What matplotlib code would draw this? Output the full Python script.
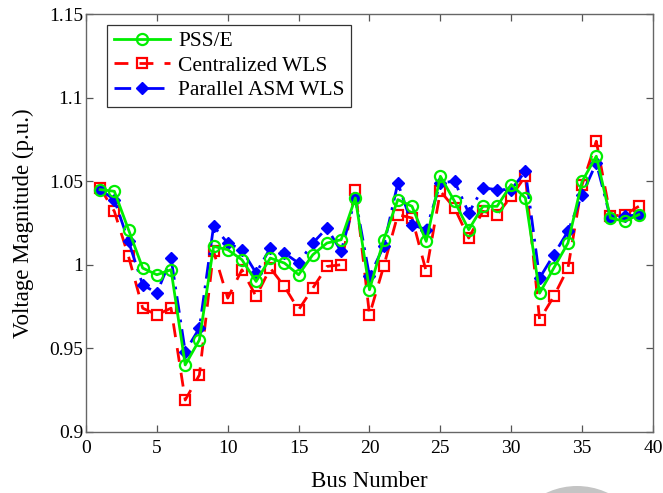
import matplotlib
matplotlib.use("Agg")
import matplotlib.pyplot as plt
from matplotlib.patches import Ellipse

plt.rcParams['font.family'] = ['Liberation Serif', 'DejaVu Serif']
plt.rcParams['mathtext.fontset'] = 'stix'

bus = list(range(1, 40))
pss_e = [1.045, 1.044, 1.021, 0.998, 0.994, 0.997, 0.940, 0.955, 1.011, 1.009,
         1.003, 0.990, 1.004, 1.001, 0.994, 1.006, 1.013, 1.015, 1.040, 0.985,
         1.015, 1.039, 1.035, 1.014, 1.053, 1.038, 1.021, 1.035, 1.035, 1.048,
         1.040, 0.983, 0.998, 1.013, 1.050, 1.065, 1.028, 1.026, 1.030]
central_wls = [1.046, 1.032, 1.005, 0.974, 0.970, 0.974, 0.919, 0.934, 1.008, 0.980,
               0.997, 0.981, 0.998, 0.987, 0.973, 0.986, 0.999, 1.000, 1.045, 0.970,
               0.999, 1.030, 1.028, 0.996, 1.044, 1.034, 1.016, 1.032, 1.030, 1.041,
               1.053, 0.967, 0.981, 0.998, 1.048, 1.074, 1.029, 1.030, 1.035]
parallel_asm = [1.045, 1.039, 1.014, 0.988, 0.983, 1.004, 0.948, 0.962, 1.023, 1.013,
                1.009, 0.995, 1.010, 1.007, 1.001, 1.013, 1.022, 1.008, 1.040, 0.993,
                1.011, 1.049, 1.024, 1.021, 1.049, 1.050, 1.031, 1.046, 1.045, 1.045,
                1.056, 0.992, 1.006, 1.020, 1.042, 1.061, 1.028, 1.029, 1.030]

xticks = [0, 5, 10, 15, 20, 25, 30, 35, 40]
yticks = [0.9, 0.95, 1.0, 1.05, 1.1, 1.15]
yticklabels = ['0.9', '0.95', '1', '1.05', '1.1', '1.15']

fig = plt.figure(figsize=(6.63, 4.93), dpi=100)
ax = fig.add_axes([0.1297, 0.1243, 0.8552, 0.8467])

ax.plot(bus, pss_e, color='#00ee00', linestyle='-', linewidth=2.0,
        marker='o', markersize=8, markerfacecolor='none', markeredgewidth=1.6,
        label='PSS/E', zorder=3)
ax.plot(bus, central_wls, color='#ff0000', linestyle=(0, (5, 4)), linewidth=2.0,
        marker='s', markersize=6.5, markerfacecolor='none', markeredgewidth=1.6,
        label='Centralized WLS', zorder=2)
ax.plot(bus, parallel_asm, color='#0000ff', linestyle=(0, (6, 2.5, 1, 2.5)), linewidth=2.0,
        marker='D', markersize=6, markerfacecolor='#0000ff', markeredgewidth=1.0,
        label='Parallel ASM WLS', zorder=2.5)

ax.set_xlim(0, 40)
ax.set_ylim(0.9, 1.15)
ax.set_xticks(xticks)
ax.set_xticklabels([str(t) for t in xticks])
ax.set_yticks(yticks)
ax.set_yticklabels(yticklabels)
ax.tick_params(direction='in', top=True, right=True, labelsize=14,
               length=5, width=0.9, color='#555555', pad=2)
ax.tick_params(axis='x', pad=6)
for s in ax.spines.values():
    s.set_color('#666666')
    s.set_linewidth(1.0)

ax.set_xlabel('Bus Number', fontsize=16.5, labelpad=10)
ax.set_ylabel('Voltage Magnitude (p.u.)', fontsize=16.5, labelpad=11)

leg = ax.legend(loc='upper left', bbox_to_anchor=(0.03, 0.985), fontsize=15.5,
                fancybox=False, framealpha=1, edgecolor='#333333',
                handlelength=2.6, borderpad=0.3, labelspacing=0.2,
                handletextpad=0.4, borderaxespad=0.2)
leg.get_frame().set_linewidth(0.9)

# light grey watermark arc at the bottom
fig.patches.append(Ellipse((577 / 663, (493 - 558) / 493), 144 / 663, 144 / 493,
                           transform=fig.transFigure, facecolor='#c4c4c4',
                           edgecolor='none', zorder=-1))

fig.savefig('out.png', dpi=100)
